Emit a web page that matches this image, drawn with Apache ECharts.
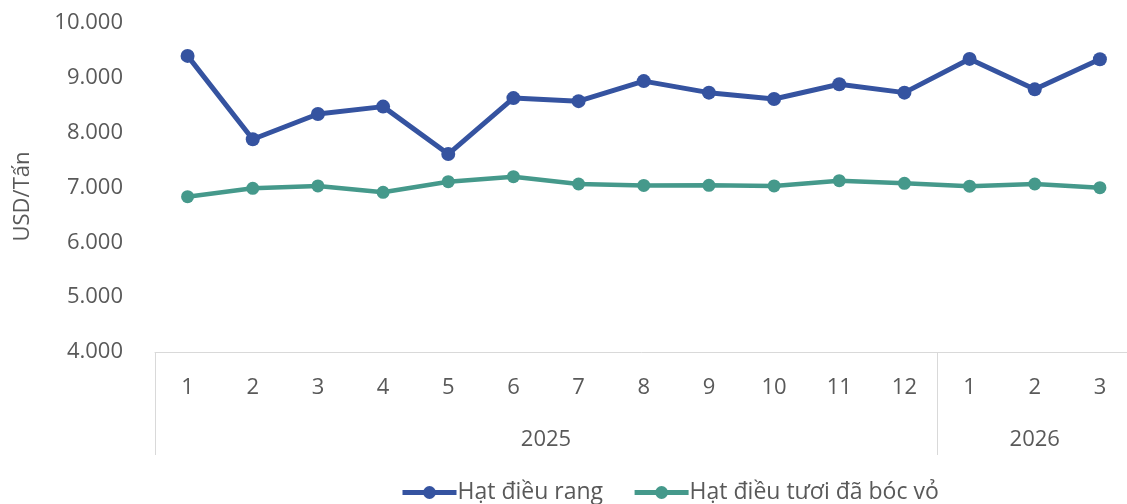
<!DOCTYPE html>
<html>
<head>
<meta charset="utf-8">
<script src="https://cdn.jsdelivr.net/npm/echarts@6/dist/echarts.min.js"></script>
<style>
html,body{margin:0;padding:0;background:#fff;}
#chart{width:1127px;height:504px;}
</style>
</head>
<body>
<div id="chart"></div>
<script>
const months = ['1','2','3','4','5','6','7','8','9','10','11','12','1','2','3'];
const years = ['2025','2026'];
const yearSpans = [12, 3];
const roasted = [9400, 7880, 8340, 8475, 7610, 8630, 8575, 8940, 8730, 8615, 8882, 8730, 9345, 8790, 9340];
const fresh = [6833, 6985, 7028, 6912, 7106, 7198, 7064, 7038, 7040, 7028, 7124, 7076, 7025, 7064, 6997];
const seriesNames = ['Hạt điều rang', 'Hạt điều tươi đã bóc vỏ'];
const yTicks = {min: 4000, max: 10000, interval: 1000};

// year group boundaries and centers (in category units)
const boundaries = [0];
const centers = [];
yearSpans.forEach(s => { const b = boundaries[boundaries.length-1]; centers.push(b + s/2); boundaries.push(b + s); });

const textColor = '#595959';
const font = 'Open Sans';
const chart = echarts.init(document.getElementById('chart'));
chart.setOption({
  animation: false,
  textStyle: {fontFamily: font, color: textColor},
  grid: {left: 155, top: 23, width: 977.5, height: 329, outerBoundsMode: 'none', containLabel: false},
  legend: {
    bottom: -5, left: 395,
    itemWidth: 54, itemHeight: 16, itemGap: 29,
    lineStyle: {width: 5},
    textStyle: {fontFamily: font, fontSize: 23, color: textColor, padding: [0,0,0,-4]},
    data: seriesNames
  },
  xAxis: [{
    type: 'category', data: months, boundaryGap: true, position: 'bottom',
    axisLine: {show: true, lineStyle: {color: '#D9D9D9', width: 1}},
    axisTick: {show: false},
    axisLabel: {color: textColor, fontFamily: font, fontSize: 22, margin: 25, interval: 0}
  }, {
    type: 'value', min: 0, max: months.length, position: 'bottom',
    axisLine: {show: false},
    splitLine: {show: false},
    axisTick: {show: true, inside: false, length: 103, customValues: boundaries,
               lineStyle: {color: '#D9D9D9', width: 1}},
    axisLabel: {show: true, customValues: centers, margin: 77, fontSize: 22, fontFamily: font, color: textColor,
      formatter: v => { const i = centers.indexOf(v); return i >= 0 ? years[i] : ''; }}
  }],
  yAxis: {
    type: 'value', min: yTicks.min, max: yTicks.max, interval: yTicks.interval,
    name: 'USD/Tấn', nameLocation: 'middle', nameGap: 121, nameRotate: 90,
    nameTextStyle: {fontFamily: font, fontSize: 22, color: textColor, padding: [0,18,0,0]},
    axisLine: {show: false}, axisTick: {show: false},
    splitLine: {show: false},
    axisLabel: {color: textColor, fontFamily: font, fontSize: 22, margin: 32,
      formatter: v => v.toLocaleString('de-DE')}
  },
  series: [{
    name: seriesNames[0], type: 'line', data: roasted, xAxisIndex: 0,
    symbol: 'circle', symbolSize: 14,
    lineStyle: {color: '#3553A0', width: 5},
    itemStyle: {color: '#3553A0'}
  }, {
    name: seriesNames[1], type: 'line', data: fresh, xAxisIndex: 0,
    symbol: 'circle', symbolSize: 13,
    lineStyle: {color: '#45998B', width: 4.5},
    itemStyle: {color: '#45998B'}
  }]
});
</script>
</body>
</html>
